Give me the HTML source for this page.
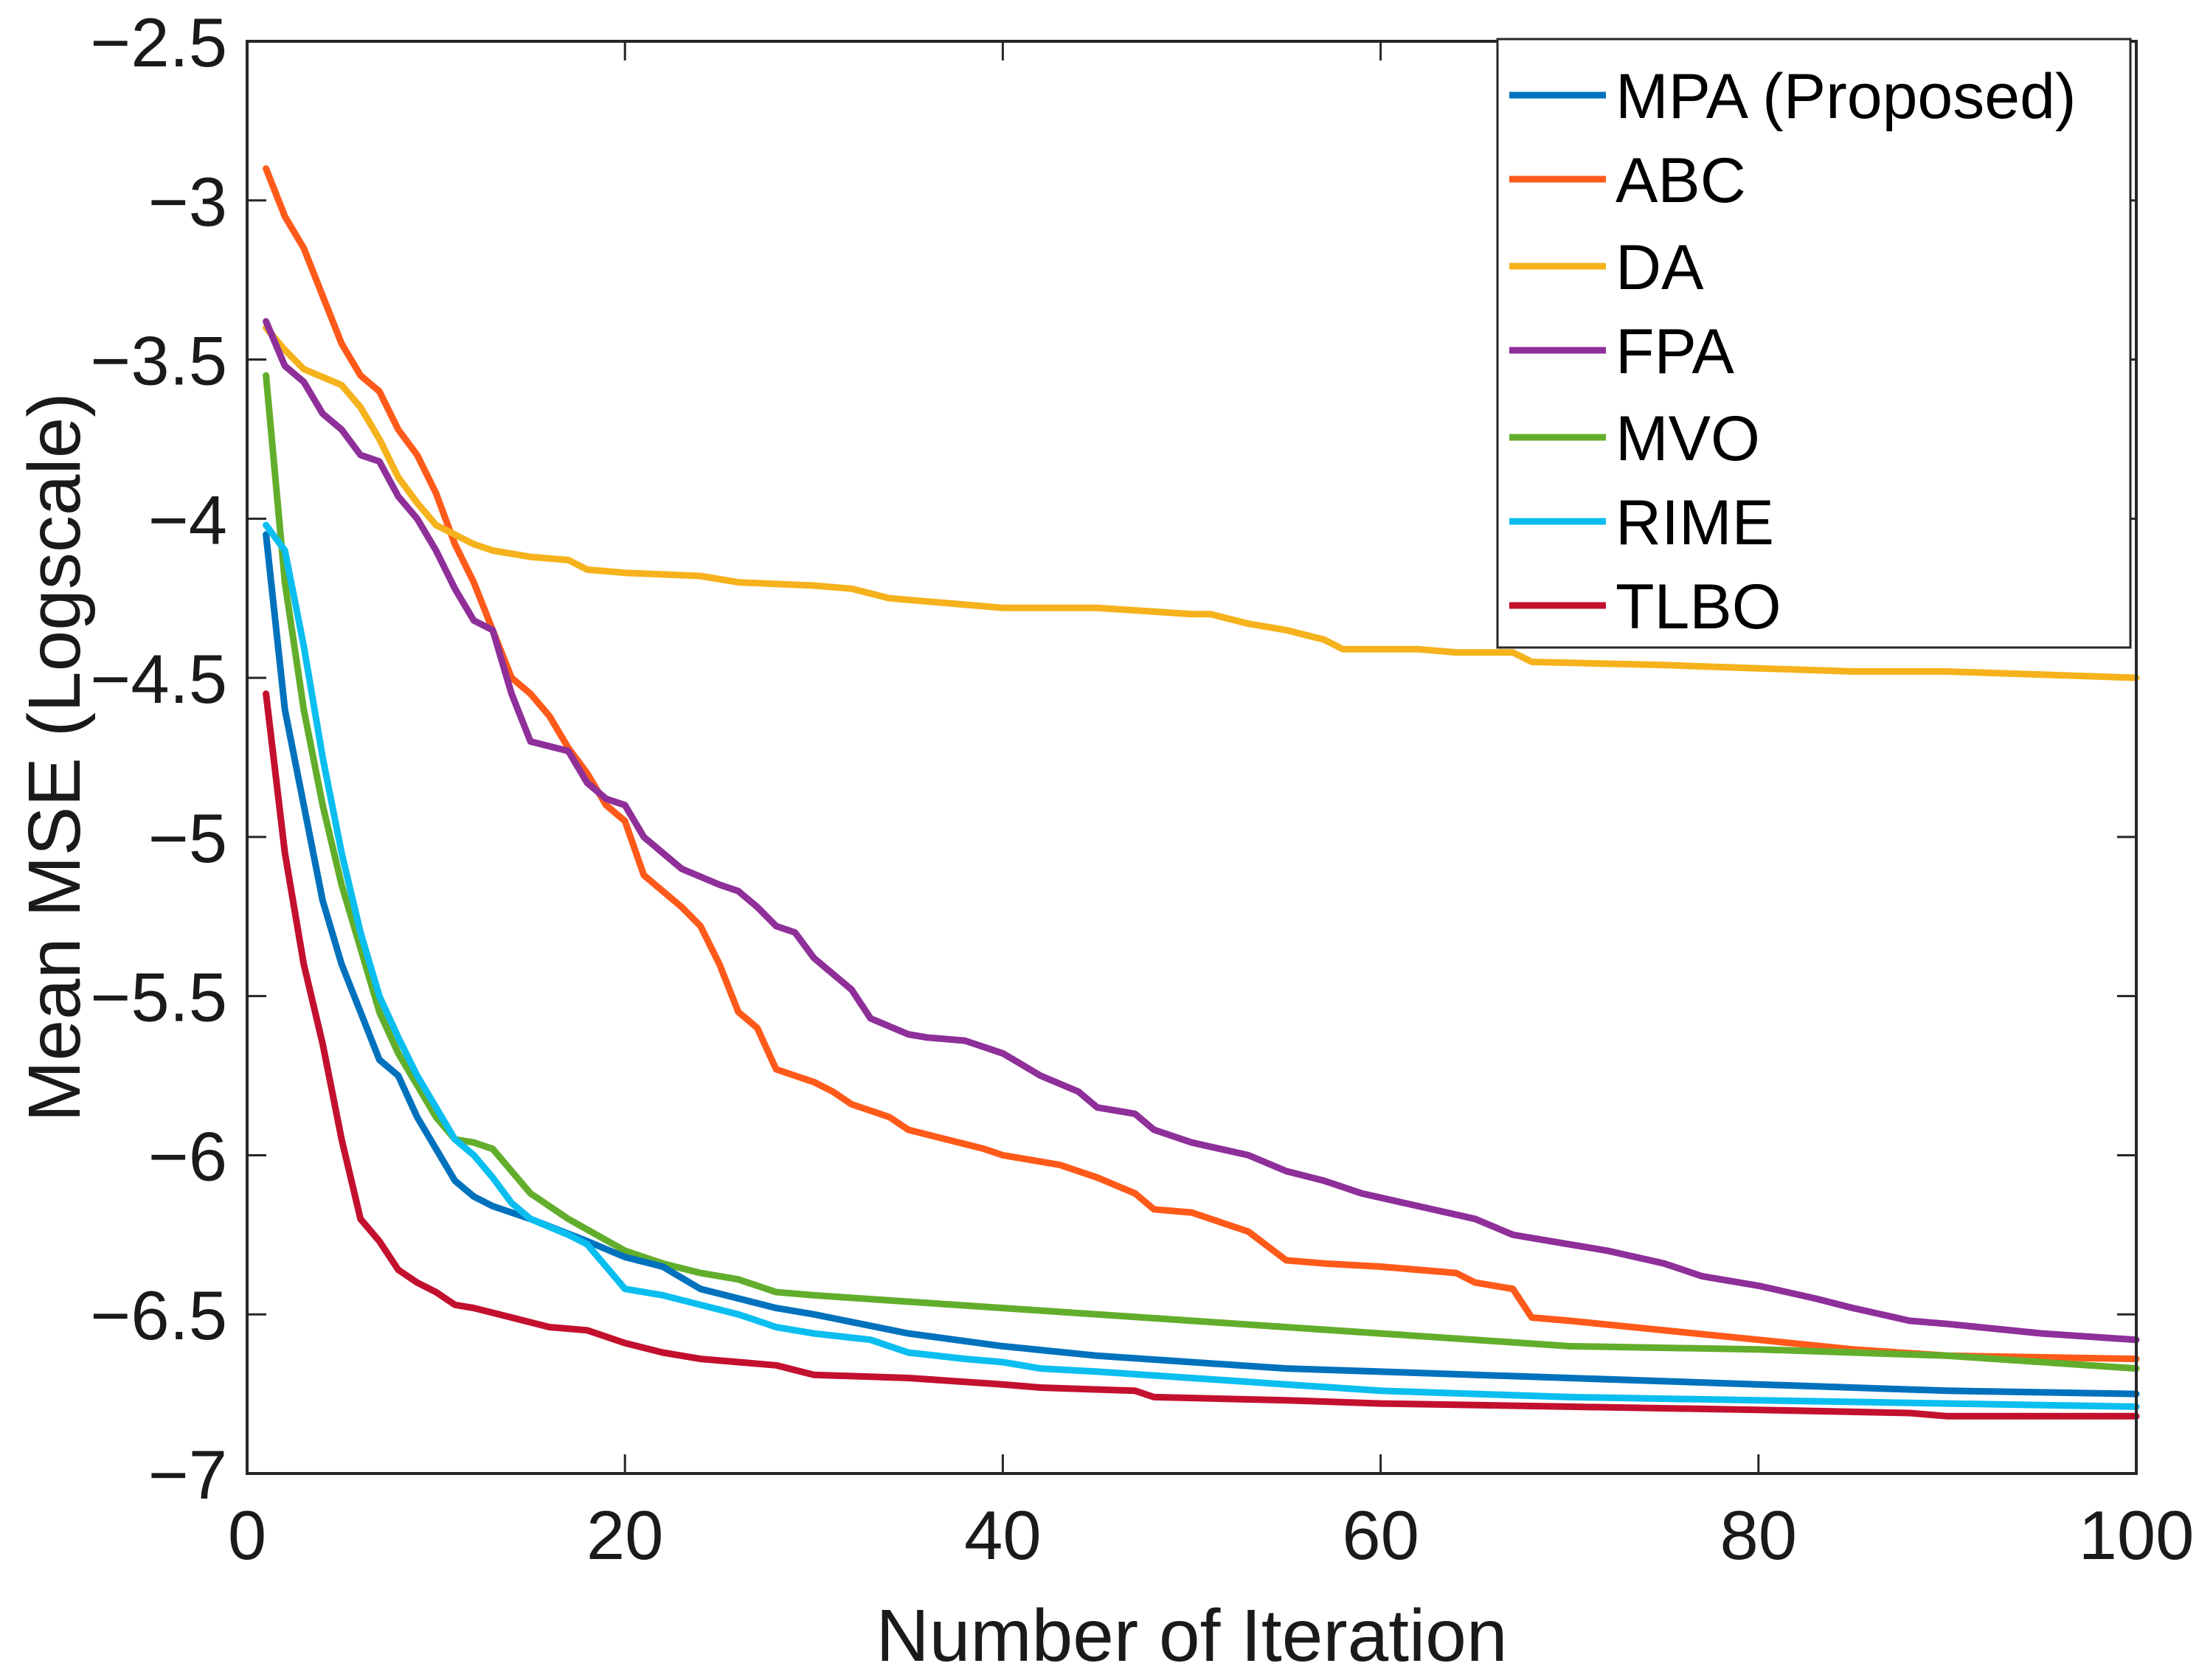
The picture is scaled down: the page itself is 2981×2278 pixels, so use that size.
<!DOCTYPE html>
<html><head><meta charset="utf-8"><style>
html,body{margin:0;padding:0;background:#fff;}
svg{display:block;font-family:"Liberation Sans",Arial,sans-serif;}
</style></head><body>
<svg id="chart" width="2981" height="2278" viewBox="0 0 2981 2278" xmlns="http://www.w3.org/2000/svg"></svg>
<script>
const xTicks=[0,20,40,60,80,100];
const yTicks=[-2.5,-3,-3.5,-4,-4.5,-5,-5.5,-6,-6.5,-7];
const yTickLabels=["\u22122.5","\u22123","\u22123.5","\u22124","\u22124.5","\u22125","\u22125.5","\u22126","\u22126.5","\u22127"];
const seriesNames=["MPA (Proposed)","ABC","DA","FPA","MVO","RIME","TLBO"];
const mpaX=[1,2,3,4,5,6,7,8,9,10,11,12,13,15,18,20,22,24,26,28,30,35,40,45,50,55,60,70,80,90,100];
const mpaY=[-4.05,-4.6,-4.9,-5.2,-5.4,-5.55,-5.7,-5.75,-5.88,-5.98,-6.08,-6.13,-6.16,-6.2,-6.27,-6.32,-6.35,-6.42,-6.45,-6.48,-6.5,-6.56,-6.6,-6.63,-6.65,-6.67,-6.68,-6.7,-6.72,-6.74,-6.75];
const abcX=[1,2,3,4,5,6,7,8,9,10,11,12,13,14,15,16,17,18,19,20,21,22,23,24,25,26,27,28,29,30,31,32,33,34,35,37,39,40,43,45,47,48,50,53,55,57,60,64,65,67,68,70,75,80,85,90,100];
const abcY=[-2.9,-3.05,-3.15,-3.3,-3.45,-3.55,-3.6,-3.72,-3.8,-3.92,-4.08,-4.2,-4.35,-4.5,-4.55,-4.62,-4.72,-4.8,-4.9,-4.95,-5.12,-5.17,-5.22,-5.28,-5.4,-5.55,-5.6,-5.73,-5.75,-5.77,-5.8,-5.84,-5.86,-5.88,-5.92,-5.95,-5.98,-6.0,-6.03,-6.07,-6.12,-6.17,-6.18,-6.24,-6.33,-6.34,-6.35,-6.37,-6.4,-6.42,-6.51,-6.52,-6.55,-6.58,-6.61,-6.63,-6.64];
const daX=[1,2,3,5,6,7,8,9,10,11,12,13,15,17,18,20,24,26,30,32,34,38,40,45,50,51,53,55,57,58,62,64,67,68,75,80,85,90,95,100];
const daY=[-3.4,-3.47,-3.53,-3.58,-3.65,-3.75,-3.87,-3.95,-4.02,-4.05,-4.08,-4.1,-4.12,-4.13,-4.16,-4.17,-4.18,-4.2,-4.21,-4.22,-4.25,-4.27,-4.28,-4.28,-4.3,-4.3,-4.33,-4.35,-4.38,-4.41,-4.41,-4.42,-4.42,-4.45,-4.46,-4.47,-4.48,-4.48,-4.49,-4.5];
const fpaX=[1,2,3,4,5,6,7,8,9,10,11,12,13,14,15,17,18,19,20,21,22,23,25,26,27,28,29,30,32,33,35,36,38,40,42,44,45,47,48,50,53,55,57,59,62,65,67,70,72,75,77,80,83,85,88,90,95,100];
const fpaY=[-3.38,-3.52,-3.57,-3.67,-3.72,-3.8,-3.82,-3.93,-4.0,-4.1,-4.22,-4.32,-4.35,-4.55,-4.7,-4.73,-4.83,-4.88,-4.9,-5.0,-5.05,-5.1,-5.15,-5.17,-5.22,-5.28,-5.3,-5.38,-5.48,-5.57,-5.62,-5.63,-5.64,-5.68,-5.75,-5.8,-5.85,-5.87,-5.92,-5.96,-6.0,-6.05,-6.08,-6.12,-6.16,-6.2,-6.25,-6.28,-6.3,-6.34,-6.38,-6.41,-6.45,-6.48,-6.52,-6.53,-6.56,-6.58];
const mvoX=[1,2,3,4,5,6,7,8,9,10,11,12,13,14,15,17,20,22,24,26,28,30,35,40,45,50,55,60,65,70,80,90,100];
const mvoY=[-3.55,-4.2,-4.6,-4.9,-5.15,-5.35,-5.55,-5.68,-5.78,-5.88,-5.95,-5.96,-5.98,-6.05,-6.12,-6.2,-6.3,-6.34,-6.37,-6.39,-6.43,-6.44,-6.46,-6.48,-6.5,-6.52,-6.54,-6.56,-6.58,-6.6,-6.61,-6.63,-6.67];
const rimeX=[1,2,3,4,5,6,7,8,9,10,11,12,13,14,15,17,18,19,20,22,24,26,28,30,33,35,38,40,42,45,50,55,60,65,70,80,90,100];
const rimeY=[-4.02,-4.1,-4.4,-4.75,-5.05,-5.3,-5.5,-5.63,-5.75,-5.85,-5.95,-6.0,-6.07,-6.15,-6.2,-6.25,-6.28,-6.35,-6.42,-6.44,-6.47,-6.5,-6.54,-6.56,-6.58,-6.62,-6.64,-6.65,-6.67,-6.68,-6.7,-6.72,-6.74,-6.75,-6.76,-6.77,-6.78,-6.79];
const tlboX=[1,2,3,4,5,6,7,8,9,10,11,12,14,16,18,20,22,24,28,30,35,40,42,47,48,55,60,70,80,88,90,100];
const tlboY=[-4.55,-5.05,-5.4,-5.65,-5.95,-6.2,-6.27,-6.36,-6.4,-6.43,-6.47,-6.48,-6.51,-6.54,-6.55,-6.59,-6.62,-6.64,-6.66,-6.69,-6.7,-6.72,-6.73,-6.74,-6.76,-6.77,-6.78,-6.79,-6.8,-6.81,-6.82,-6.82];

const svg=document.getElementById('chart');
const NS='http://www.w3.org/2000/svg';
const L=335,R=2896,T=56,B=1998;
const sx=v=>L+(v-0)/(100-0)*(R-L);
const sy=v=>T+(-2.5-v)/(4.5)*(B-T);
function mk(tag,attrs){const e=document.createElementNS(NS,tag);for(const k in attrs)e.setAttribute(k,attrs[k]);svg.appendChild(e);return e;}

const plotBg=mk('rect',{x:L,y:T,width:R-L,height:B-T,fill:'#fff'});



xTicks.forEach((t,i)=>{
  const tk=mk('line',{x1:sx(t),x2:sx(t),y1:B,y2:B-26,stroke:'#262626','stroke-width':3});
  
  
  const tk2=mk('line',{x1:sx(t),x2:sx(t),y1:T,y2:T+26,stroke:'#262626','stroke-width':3});
  
  
  const tx=mk('text',{x:sx(t),y:2114,'text-anchor':'middle','font-size':94,fill:'#1a1a1a'});
  tx.textContent=String(t);
  
  
});
yTicks.forEach((t,i)=>{
  const tk=mk('line',{x1:L,x2:L+26,y1:sy(t),y2:sy(t),stroke:'#262626','stroke-width':3});
  
  
  const tk2=mk('line',{x1:R,x2:R-26,y1:sy(t),y2:sy(t),stroke:'#262626','stroke-width':3});
  
  
  const tx=mk('text',{x:308,y:sy(t)+34,'text-anchor':'end','font-size':94,fill:'#1a1a1a'});
  tx.textContent=yTickLabels[i];
  
  
});

const colors=['#0072BD','#FF5A1A','#F5B21C','#8E2F9A','#62AE2C','#0BBEF0','#C3102E'];
const xs=[mpaX,abcX,daX,fpaX,mvoX,rimeX,tlboX];
const ys=[mpaY,abcY,daY,fpaY,mvoY,rimeY,tlboY];
const slugs=['mpa','abc','da','fpa','mvo','rime','tlbo'];
const drawOrder=[1,2,3,4,0,5,6];
drawOrder.forEach(i=>{
  const d=xs[i].map((x,j)=>(j?'L':'M')+sx(x).toFixed(1)+' '+sy(ys[i][j]).toFixed(1)).join(' ');
  const p=mk('path',{d:d,fill:'none',stroke:colors[i],'stroke-width':9,'stroke-linejoin':'round','stroke-linecap':'round'});
  
  
});

const frame=mk('rect',{x:L,y:T,width:R-L,height:B-T,fill:'none',stroke:'#262626','stroke-width':4});



const lg=mk('rect',{x:2030,y:53,width:858,height:825,fill:'#fff',stroke:'#262626','stroke-width':3});


const rows=[129,243,361,475,593,707,821];
seriesNames.forEach((n,i)=>{
  const ln=mk('line',{x1:2046,x2:2177,y1:rows[i],y2:rows[i],stroke:colors[i],'stroke-width':9});
  
  
  const tx=mk('text',{x:2190,y:rows[i]+31,'font-size':86,fill:'#000'});
  tx.textContent=n;
  
  
});

const xl=mk('text',{x:(L+R)/2,y:2252,'text-anchor':'middle','font-size':100,fill:'#1a1a1a'});
xl.textContent='Number of Iteration';


const yl=mk('text',{x:0,y:0,'text-anchor':'middle','font-size':100,fill:'#1a1a1a',transform:'translate(108,'+((T+B)/2)+') rotate(-90)'});
yl.textContent='Mean MSE (Logscale)';


</script>
</body></html>
